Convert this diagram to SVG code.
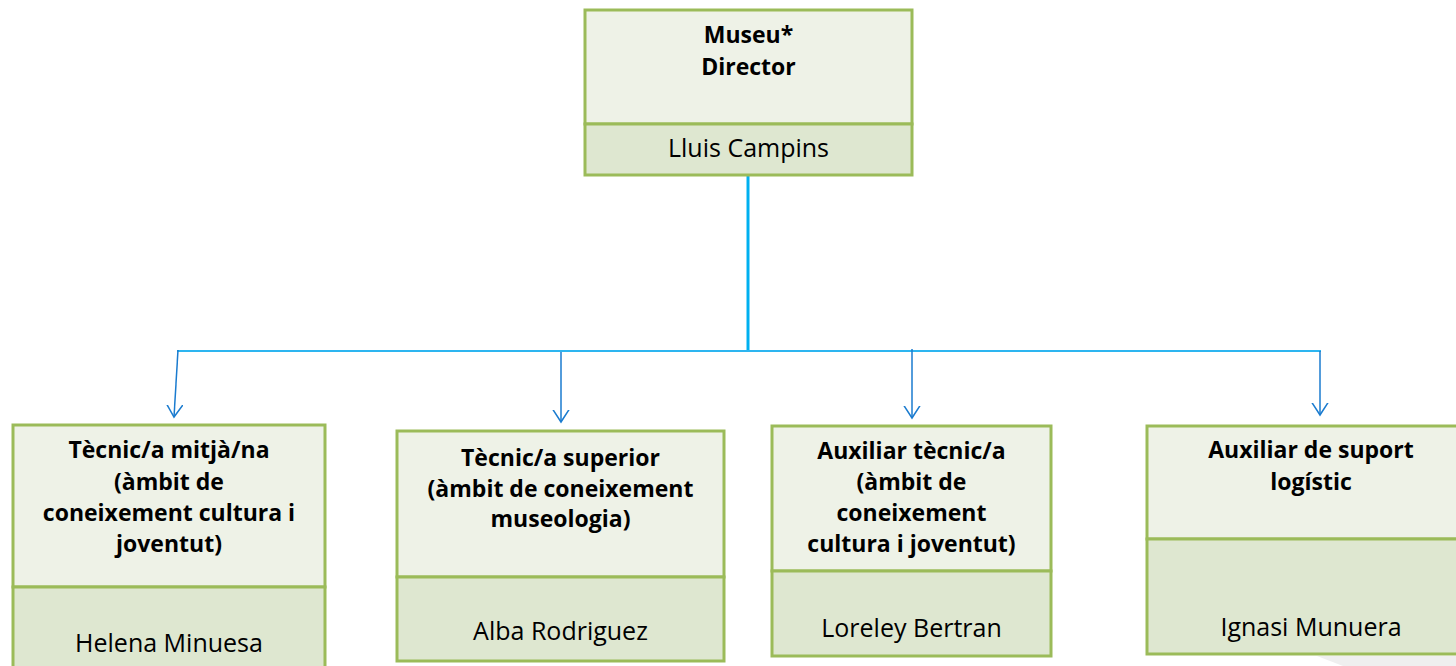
<svg xmlns="http://www.w3.org/2000/svg" width="1456" height="666" viewBox="0 0 1456 666">
<defs>
<style>
.hd{fill:#EEF2E7;stroke:#9BBB59;stroke-width:3}
.bd{fill:#DEE7D0;stroke:#9BBB59;stroke-width:3}
.t{font-family:"Open Sans","Liberation Sans",sans-serif;font-size:23px;font-weight:bold;fill:#000;text-anchor:middle}
.n{font-family:"Open Sans","Liberation Sans",sans-serif;font-size:25px;fill:#000;text-anchor:middle}
.br{fill:none;stroke:#1A7BCF;stroke-width:1.5}
</style>
<marker id="ah" markerUnits="userSpaceOnUse" viewBox="-12 -12 24 24" markerWidth="24" markerHeight="24" refX="0" refY="0" orient="auto">
<path d="M-17,-11 L0,0 L-17,11" fill="none" stroke="#1A7BCF" stroke-width="1.5"/>
</marker>
</defs>
<rect width="1456" height="666" fill="#FFFFFF"/>
<polygon points="1317,656 1456,656 1456,666 1343,666" fill="#EFEFEF"/>
<g id="connectors">
<line x1="748" y1="174" x2="748" y2="352" stroke="#00B0F0" stroke-width="3"/>
<line x1="177" y1="351" x2="1321" y2="351" stroke="#2DB5F0" stroke-width="2"/>
<line class="br" x1="178" y1="350" x2="174" y2="417" marker-end="url(#ah)"/>
<line class="br" x1="561" y1="352" x2="561" y2="422" marker-end="url(#ah)"/>
<line class="br" x1="912" y1="349" x2="912" y2="418" marker-end="url(#ah)"/>
<line class="br" x1="1320" y1="351" x2="1320" y2="415" marker-end="url(#ah)"/>
</g>
<g id="director">
<rect class="hd" x="585" y="10" width="327" height="114"/>
<rect class="bd" x="585" y="124" width="327" height="51"/>
<text class="t" x="748.5" y="43">Museu*</text>
<text class="t" x="748.5" y="75">Director</text>
<text class="n" x="748.5" y="157">Lluis Campins</text>
</g>
<g id="tecnic-mitja">
<rect class="hd" x="13" y="425" width="312" height="162"/>
<rect class="bd" x="13" y="587" width="312" height="90"/>
<text class="t" x="169" y="458">Tècnic/a mitjà/na</text>
<text class="t" x="169" y="490">(àmbit de</text>
<text class="t" x="169" y="521">coneixement cultura i</text>
<text class="t" x="169" y="552">joventut)</text>
<text class="n" x="169" y="652">Helena Minuesa</text>
</g>
<g id="tecnic-superior">
<rect class="hd" x="397" y="431" width="327" height="146"/>
<rect class="bd" x="397" y="577" width="327" height="84"/>
<text class="t" x="560.5" y="466">Tècnic/a superior</text>
<text class="t" x="560.5" y="497">(àmbit de coneixement</text>
<text class="t" x="560.5" y="527">museologia)</text>
<text class="n" x="560.5" y="640">Alba Rodriguez</text>
</g>
<g id="auxiliar-tecnic">
<rect class="hd" x="772" y="426" width="279" height="145"/>
<rect class="bd" x="772" y="571" width="279" height="85"/>
<text class="t" x="911.5" y="459">Auxiliar tècnic/a</text>
<text class="t" x="911.5" y="490">(àmbit de</text>
<text class="t" x="911.5" y="521">coneixement</text>
<text class="t" x="911.5" y="552">cultura i joventut)</text>
<text class="n" x="911.5" y="637">Loreley Bertran</text>
</g>
<g id="auxiliar-suport">
<rect class="hd" x="1147" y="426" width="328" height="113"/>
<rect class="bd" x="1147" y="539" width="328" height="115"/>
<text class="t" x="1311" y="458">Auxiliar de suport</text>
<text class="t" x="1311" y="490">logístic</text>
<text class="n" x="1311" y="636">Ignasi Munuera</text>
</g>
</svg>
